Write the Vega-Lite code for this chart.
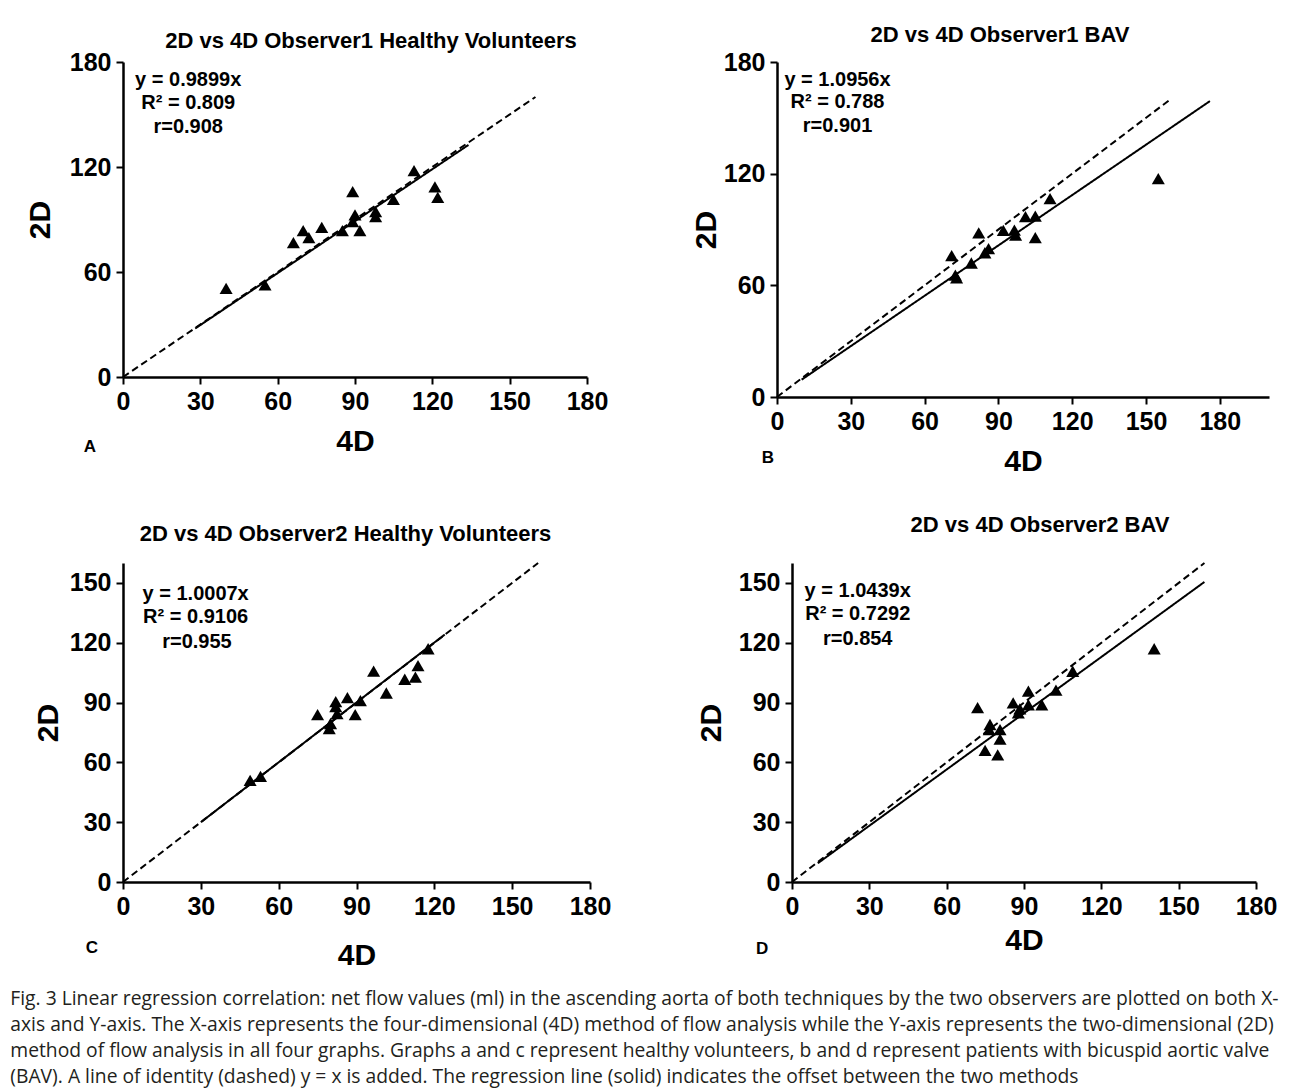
{
  "$schema": "https://vega.github.io/schema/vega-lite/v6.json",
  "background": "white",
  "padding": {"left": 10, "top": 24, "right": 5, "bottom": 5},
  "datasets": {
    "ptsA": [
      {"x": 40.0, "y": 50.7}, {"x": 55.1, "y": 52.6}, {"x": 66.1, "y": 76.8}, {"x": 69.9, "y": 83.6},
      {"x": 72.1, "y": 79.6}, {"x": 77.1, "y": 85.5}, {"x": 85.1, "y": 83.6}, {"x": 89.1, "y": 105.9},
      {"x": 90.0, "y": 92.6}, {"x": 89.1, "y": 88.8}, {"x": 91.9, "y": 83.6}, {"x": 98.0, "y": 94.5},
      {"x": 98.0, "y": 91.6}, {"x": 104.9, "y": 101.5}, {"x": 112.9, "y": 117.9}, {"x": 121.0, "y": 108.7},
      {"x": 122.1, "y": 102.7}
    ],
    "ptsB": [
      {"x": 71, "y": 76}, {"x": 72.5, "y": 65.5}, {"x": 73, "y": 64}, {"x": 79, "y": 72},
      {"x": 82, "y": 88.2}, {"x": 84.5, "y": 77.5}, {"x": 86, "y": 79.7}, {"x": 92, "y": 89.5},
      {"x": 96.5, "y": 89.7}, {"x": 97, "y": 87}, {"x": 101, "y": 96.9}, {"x": 105, "y": 97.2},
      {"x": 105, "y": 85.6}, {"x": 111, "y": 106.6}, {"x": 155, "y": 117.3}
    ],
    "ptsC": [
      {"x": 49, "y": 51}, {"x": 53, "y": 53}, {"x": 75, "y": 84}, {"x": 79.5, "y": 77},
      {"x": 80, "y": 79.5}, {"x": 82, "y": 88}, {"x": 82, "y": 90.5}, {"x": 82.5, "y": 84.5},
      {"x": 86.5, "y": 92.5}, {"x": 91.5, "y": 91}, {"x": 89.5, "y": 84}, {"x": 96.6, "y": 105.8},
      {"x": 101.5, "y": 94.8}, {"x": 108.6, "y": 101.7}, {"x": 112.7, "y": 102.8}, {"x": 113.7, "y": 108.5},
      {"x": 117.6, "y": 117}
    ],
    "ptsD": [
      {"x": 72, "y": 87.5}, {"x": 74.9, "y": 66}, {"x": 76.8, "y": 79}, {"x": 76.5, "y": 76.4},
      {"x": 80.7, "y": 76.4}, {"x": 80.7, "y": 71.7}, {"x": 79.8, "y": 63.8}, {"x": 85.8, "y": 89.8},
      {"x": 91.7, "y": 95.7}, {"x": 91.7, "y": 88.9}, {"x": 88.4, "y": 86.8}, {"x": 87.8, "y": 84.8},
      {"x": 96.9, "y": 88.9}, {"x": 102.4, "y": 96.2}, {"x": 108.9, "y": 105.7}, {"x": 140.5, "y": 117}
    ],
    "linesA": [
      {"line": "identity", "x": 0, "y": 0}, {"line": "identity", "x": 160, "y": 160},
      {"line": "regression", "x": 28, "y": 27.7}, {"line": "regression", "x": 134, "y": 132.6}
    ],
    "linesB": [
      {"line": "identity", "x": 0, "y": 0}, {"line": "identity", "x": 160, "y": 160},
      {"line": "regression", "x": 10, "y": 9.3}, {"line": "regression", "x": 176, "y": 159}
    ],
    "linesC": [
      {"line": "identity", "x": 0, "y": 0}, {"line": "identity", "x": 160, "y": 160},
      {"line": "regression", "x": 30, "y": 30}, {"line": "regression", "x": 124, "y": 124.1}
    ],
    "linesD": [
      {"line": "identity", "x": 0, "y": 0}, {"line": "identity", "x": 160, "y": 160},
      {"line": "regression", "x": 10, "y": 9.4}, {"line": "regression", "x": 160, "y": 150.5}
    ],
    "txtA": [
      {"x": 25.3, "y": 169.5, "label": "y = 0.9899x"},
      {"x": 25.3, "y": 156.6, "label": "R² = 0.809"},
      {"x": 25.3, "y": 143, "label": "r=0.908"}
    ],
    "txtB": [
      {"x": 24.6, "y": 170.4, "label": "y = 1.0956x"},
      {"x": 24.6, "y": 158.6, "label": "R² = 0.788"},
      {"x": 24.6, "y": 145.7, "label": "r=0.901"}
    ],
    "txtC": [
      {"x": 28, "y": 144.7, "label": "y = 1.0007x"},
      {"x": 28, "y": 133, "label": "R² = 0.9106"},
      {"x": 28.5, "y": 120.5, "label": "r=0.955"}
    ],
    "txtD": [
      {"x": 25.5, "y": 145.8, "label": "y = 1.0439x"},
      {"x": 25.5, "y": 134.3, "label": "R² = 0.7292"},
      {"x": 25.5, "y": 121.8, "label": "r=0.854"}
    ],
    "letA": [{"x": -12.8, "y": -40, "label": "A"}],
    "letB": [{"x": -3.7, "y": -32.8, "label": "B"}],
    "letC": [{"x": -12, "y": -33, "label": "C"}],
    "letD": [{"x": -11.6, "y": -33.8, "label": "D"}]
  },
  "title": {
    "text": [
      "Fig. 3 Linear regression correlation: net flow values (ml) in the ascending aorta of both techniques by the two observers are plotted on both X-",
      "axis and Y-axis. The X-axis represents the four-dimensional (4D) method of flow analysis while the Y-axis represents the two-dimensional (2D)",
      "method of flow analysis in all four graphs. Graphs a and c represent healthy volunteers, b and d represent patients with bicuspid aortic valve",
      "(BAV). A line of identity (dashed) y = x is added. The regression line (solid) indicates the offset between the two methods"
    ],
    "orient": "bottom",
    "anchor": "start",
    "font": "Open Sans",
    "fontSize": 19.3,
    "fontWeight": "normal",
    "lineHeight": 26,
    "color": "#231f20",
    "offset": 20,
    "dx": -15
  },
  "spacing": 501,
  "bounds": "flush",
  "vconcat": [
    {
      "hconcat": [
        {
          "width": 464, "height": 315,
          "title": {"text": "2D vs 4D Observer1 Healthy Volunteers", "dx": 16, "offset": -3},
          "layer": [
            {
              "data": {"name": "linesA"},
              "mark": {"type": "line", "color": "black", "strokeWidth": 2},
              "encoding": {
                "x": {"field": "x", "type": "quantitative", "title": "4D", "scale": {"domain": [0, 180], "nice": false}, "axis": {"values": [0, 30, 60, 90, 120, 150, 180], "titlePadding": 12}},
                "y": {"field": "y", "type": "quantitative", "title": "2D", "scale": {"domain": [0, 180], "nice": false}, "axis": {"values": [0, 60, 120, 180], "titlePadding": 14}},
                "detail": {"field": "line"},
                "strokeDash": {"field": "line", "type": "nominal", "scale": {"domain": ["identity", "regression"], "range": [[7, 4], [1, 0]]}, "legend": null}
              }
            },
            {
              "data": {"name": "ptsA"},
              "mark": {"type": "point", "shape": "triangle-up", "filled": true, "color": "black", "opacity": 1, "size": 170},
              "encoding": {"x": {"field": "x", "type": "quantitative", "title": "4D"}, "y": {"field": "y", "type": "quantitative", "title": "2D"}}
            },
            {
              "data": {"name": "txtA"},
              "mark": {"type": "text", "font": "Liberation Sans", "fontSize": 20, "fontWeight": "bold", "align": "center", "baseline": "middle", "color": "black"},
              "encoding": {"x": {"field": "x", "type": "quantitative", "title": "4D"}, "y": {"field": "y", "type": "quantitative", "title": "2D"}, "text": {"field": "label"}}
            },
            {
              "data": {"name": "letA"},
              "mark": {"type": "text", "font": "Liberation Sans", "fontSize": 17, "fontWeight": "bold", "align": "center", "baseline": "middle", "color": "black"},
              "encoding": {"x": {"field": "x", "type": "quantitative", "title": "4D"}, "y": {"field": "y", "type": "quantitative", "title": "2D"}, "text": {"field": "label"}}
            }
          ]
        },
        {
          "width": 492, "height": 335,
          "title": {"text": "2D vs 4D Observer1 BAV", "dx": -23, "offset": 3},
          "layer": [
            {
              "data": {"name": "linesB"},
              "mark": {"type": "line", "color": "black", "strokeWidth": 2},
              "encoding": {
                "x": {"field": "x", "type": "quantitative", "title": "4D", "scale": {"domain": [0, 200], "nice": false}, "axis": {"values": [0, 30, 60, 90, 120, 150, 180], "titlePadding": 12}},
                "y": {"field": "y", "type": "quantitative", "title": "2D", "scale": {"domain": [0, 180], "nice": false}, "axis": {"values": [0, 60, 120, 180], "titlePadding": 2}},
                "detail": {"field": "line"},
                "strokeDash": {"field": "line", "type": "nominal", "scale": {"domain": ["identity", "regression"], "range": [[7, 4], [1, 0]]}, "legend": null}
              }
            },
            {
              "data": {"name": "ptsB"},
              "mark": {"type": "point", "shape": "triangle-up", "filled": true, "color": "black", "opacity": 1, "size": 170},
              "encoding": {"x": {"field": "x", "type": "quantitative", "title": "4D"}, "y": {"field": "y", "type": "quantitative", "title": "2D"}}
            },
            {
              "data": {"name": "txtB"},
              "mark": {"type": "text", "font": "Liberation Sans", "fontSize": 20, "fontWeight": "bold", "align": "center", "baseline": "middle", "color": "black"},
              "encoding": {"x": {"field": "x", "type": "quantitative", "title": "4D"}, "y": {"field": "y", "type": "quantitative", "title": "2D"}, "text": {"field": "label"}}
            },
            {
              "data": {"name": "letB"},
              "mark": {"type": "text", "font": "Liberation Sans", "fontSize": 17, "fontWeight": "bold", "align": "center", "baseline": "middle", "color": "black"},
              "encoding": {"x": {"field": "x", "type": "quantitative", "title": "4D"}, "y": {"field": "y", "type": "quantitative", "title": "2D"}, "text": {"field": "label"}}
            }
          ]
        }
      ],
      "spacing": 190,
      "bounds": "flush"
    },
    {
      "hconcat": [
        {
          "width": 467, "height": 319,
          "title": {"text": "2D vs 4D Observer2 Healthy Volunteers", "dx": -11, "offset": 13},
          "layer": [
            {
              "data": {"name": "linesC"},
              "mark": {"type": "line", "color": "black", "strokeWidth": 2},
              "encoding": {
                "x": {"field": "x", "type": "quantitative", "title": "4D", "scale": {"domain": [0, 180], "nice": false}, "axis": {"values": [0, 30, 60, 90, 120, 150, 180], "titlePadding": 21}},
                "y": {"field": "y", "type": "quantitative", "title": "2D", "scale": {"domain": [0, 160], "nice": false}, "axis": {"values": [0, 30, 60, 90, 120, 150], "titlePadding": 6}},
                "detail": {"field": "line"},
                "strokeDash": {"field": "line", "type": "nominal", "scale": {"domain": ["identity", "regression"], "range": [[7, 4], [1, 0]]}, "legend": null}
              }
            },
            {
              "data": {"name": "ptsC"},
              "mark": {"type": "point", "shape": "triangle-up", "filled": true, "color": "black", "opacity": 1, "size": 170},
              "encoding": {"x": {"field": "x", "type": "quantitative", "title": "4D"}, "y": {"field": "y", "type": "quantitative", "title": "2D"}}
            },
            {
              "data": {"name": "txtC"},
              "mark": {"type": "text", "font": "Liberation Sans", "fontSize": 20, "fontWeight": "bold", "align": "center", "baseline": "middle", "color": "black"},
              "encoding": {"x": {"field": "x", "type": "quantitative", "title": "4D"}, "y": {"field": "y", "type": "quantitative", "title": "2D"}, "text": {"field": "label"}}
            },
            {
              "data": {"name": "letC"},
              "mark": {"type": "text", "font": "Liberation Sans", "fontSize": 17, "fontWeight": "bold", "align": "center", "baseline": "middle", "color": "black"},
              "encoding": {"x": {"field": "x", "type": "quantitative", "title": "4D"}, "y": {"field": "y", "type": "quantitative", "title": "2D"}, "text": {"field": "label"}}
            }
          ]
        },
        {
          "width": 464, "height": 319,
          "title": {"text": "2D vs 4D Observer2 BAV", "dx": 16, "offset": 22},
          "layer": [
            {
              "data": {"name": "linesD"},
              "mark": {"type": "line", "color": "black", "strokeWidth": 2},
              "encoding": {
                "x": {"field": "x", "type": "quantitative", "title": "4D", "scale": {"domain": [0, 180], "nice": false}, "axis": {"values": [0, 30, 60, 90, 120, 150, 180], "titlePadding": 6}},
                "y": {"field": "y", "type": "quantitative", "title": "2D", "scale": {"domain": [0, 160], "nice": false}, "axis": {"values": [0, 30, 60, 90, 120, 150], "titlePadding": 12}},
                "detail": {"field": "line"},
                "strokeDash": {"field": "line", "type": "nominal", "scale": {"domain": ["identity", "regression"], "range": [[7, 4], [1, 0]]}, "legend": null}
              }
            },
            {
              "data": {"name": "ptsD"},
              "mark": {"type": "point", "shape": "triangle-up", "filled": true, "color": "black", "opacity": 1, "size": 170},
              "encoding": {"x": {"field": "x", "type": "quantitative", "title": "4D"}, "y": {"field": "y", "type": "quantitative", "title": "2D"}}
            },
            {
              "data": {"name": "txtD"},
              "mark": {"type": "text", "font": "Liberation Sans", "fontSize": 20, "fontWeight": "bold", "align": "center", "baseline": "middle", "color": "black"},
              "encoding": {"x": {"field": "x", "type": "quantitative", "title": "4D"}, "y": {"field": "y", "type": "quantitative", "title": "2D"}, "text": {"field": "label"}}
            },
            {
              "data": {"name": "letD"},
              "mark": {"type": "text", "font": "Liberation Sans", "fontSize": 17, "fontWeight": "bold", "align": "center", "baseline": "middle", "color": "black"},
              "encoding": {"x": {"field": "x", "type": "quantitative", "title": "4D"}, "y": {"field": "y", "type": "quantitative", "title": "2D"}, "text": {"field": "label"}}
            }
          ]
        }
      ],
      "spacing": 202,
      "bounds": "flush"
    }
  ],
  "config": {
    "view": {"stroke": null},
    "axis": {
      "grid": false,
      "domainColor": "black",
      "domainWidth": 2.5,
      "tickColor": "black",
      "tickWidth": 2,
      "tickSize": 7,
      "labelFont": "Liberation Sans",
      "labelFontSize": 25,
      "labelFontWeight": "bold",
      "labelColor": "black",
      "labelPadding": 5,
      "labelFlush": false,
      "labelOverlap": false,
      "titleFont": "Liberation Sans",
      "titleFontSize": 30,
      "titleFontWeight": "bold",
      "titleColor": "black"
    },
    "title": {"font": "Liberation Sans", "fontSize": 22, "fontWeight": "bold", "color": "black"}
  }
}
